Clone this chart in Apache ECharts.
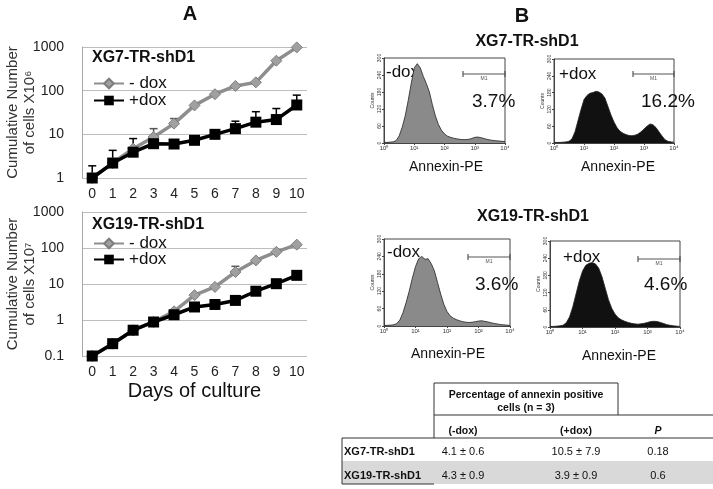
<!DOCTYPE html>
<html><head><meta charset="utf-8">
<script src="https://cdn.jsdelivr.net/npm/echarts@6/dist/echarts.min.js"></script>
<style>html,body{margin:0;padding:0;background:#fff}#c{width:713px;height:489px}</style>
</head><body><div id="c"></div>
<script>
// ---------- Panel A data ----------
const days = ['0','1','2','3','4','5','6','7','8','9','10'];
const xg7Minus = [1,2.2,4.7,8.7,17.6,46,83,128,155,485,980];
const xg7Plus  = [1,2.2,3.9,6.1,6.0,7.3,10,13.5,19,21.8,47];
const xg7MinusErr = [null,null,null,13.5,23,null,null,null,null,null,null];
const xg7PlusErr  = [1.9,4.3,8,null,null,null,null,20,33,39,79];
const xg19Minus = [0.1,0.22,0.52,0.88,1.74,4.9,8.3,21.5,45,78,124];
const xg19Plus  = [0.1,0.22,0.52,0.88,1.4,2.3,2.7,3.5,6.3,10.2,17.4];
const xg19MinusErr = [null,null,null,null,null,null,null,31,null,null,null];
const xg19PlusErr  = [null,null,null,null,null,null,null,null,null,null,null];

// ---------- Panel B data (log10 fluorescence bins, counts) ----------
const histBins = [0,0.1,0.2,0.3,0.4,0.5,0.6,0.7,0.8,0.9,1.0,1.1,1.2,1.3,1.4,1.5,1.6,1.7,1.8,1.9,2.0,2.1,2.2,2.3,2.4,2.5,2.6,2.7,2.8,2.9,3.0,3.1,3.2,3.3,3.4,3.5,3.6,3.7,3.8,3.9,4.0];
const hXg7Minus  = [2,2,3,4,8,25,55,95,150,210,265,280,265,235,210,180,135,95,65,45,32,24,20,17,15,13,12,12,13,16,20,21,19,16,13,11,9,8,7,6,5];
const hXg7Plus   = [2,2,2,3,4,6,15,40,80,120,155,170,178,180,185,182,175,160,130,100,75,55,42,35,30,27,26,28,32,40,50,60,68,65,55,40,25,12,6,4,3];
const hXg19Minus = [2,2,3,4,8,20,45,80,120,165,205,232,240,230,232,215,190,150,110,75,50,35,27,22,18,15,13,12,13,15,17,18,16,14,11,9,7,5,4,3,2];
const hXg19Plus  = [2,2,3,4,6,15,35,70,115,160,195,215,222,225,220,205,175,135,95,65,45,32,25,20,16,13,11,10,11,13,16,19,20,19,16,12,8,6,4,3,2];
const histPct = ['3.7%','16.2%','3.6%','4.6%'];
const histTags = ['-dox','+dox','-dox','+dox'];
const histTicks = ['10\u2070','10\u00b9','10\u00b2','10\u00b3','10\u2074'];

// ---------- Table data ----------
const tableHeader = ['Percentage of annexin positive', 'cells (n = 3)'];
const tableCols = ['(-dox)','(+dox)','P'];
const tableRows = ['XG7-TR-shD1','XG19-TR-shD1'];
const colMinus = ['4.1 \u00b1 0.6','4.3 \u00b1 0.9'];
const colPlus  = ['10.5 \u00b1 7.9','3.9 \u00b1 0.9'];
const colP     = ['0.18','0.6'];

const FF = 'Liberation Sans, Arial, sans-serif';
const GRAY_LINE = '#8e8e8e';

function errData(vals, errs){
  const out = [];
  errs.forEach((e,i)=>{ if(e!=null) out.push([i, vals[i], e]); });
  return out;
}
function errSeries(xi, yi, vals, errs, color){
  return {
    type:'custom', xAxisIndex:xi, yAxisIndex:yi, z:2, silent:true,
    data: errData(vals, errs),
    renderItem:(params, api)=>{
      const p0 = api.coord([api.value(0), api.value(1)]);
      const p1 = api.coord([api.value(0), api.value(2)]);
      return {type:'group', children:[
        {type:'line', shape:{x1:p0[0],y1:p0[1],x2:p1[0],y2:p1[1]}, style:{stroke:color,lineWidth:1.5}},
        {type:'line', shape:{x1:p1[0]-4,y1:p1[1],x2:p1[0]+4,y2:p1[1]}, style:{stroke:color,lineWidth:1.5}}
      ]};
    }
  };
}
function lineYAxis(gi, min, max, nameSup){
  return {
    type:'log', logBase:10, gridIndex:gi, min:min, max:max,
    axisLine:{show:true, lineStyle:{color:'#a8a8a8', width:1}},
    axisTick:{show:false},
    splitLine:{show:true, lineStyle:{color:'#bdbdbd', width:1}},
    axisLabel:{fontSize:14, color:'#222', fontFamily:FF, margin:18, formatter:v=>String(v)},
    name:'Cumulative Number\nof cells X10' + nameSup, nameLocation:'middle', nameRotate:90, nameGap:44,
    nameMoveOverlap:false,
    nameTextStyle:{fontSize:15, lineHeight:17, color:'#333', fontFamily:FF}
  };
}
function lineXAxis(gi, extra){
  return Object.assign({
    type:'category', gridIndex:gi, data:days, boundaryGap:true,
    axisLine:{show:false}, axisTick:{show:false}, splitLine:{show:false},
    axisLabel:{fontSize:14, color:'#222', fontFamily:FF, interval:0, margin:9}
  }, extra||{});
}
function histX(gi){
  return {type:'value', gridIndex:gi, min:0, max:4, interval:1,
    axisLine:{show:true, lineStyle:{color:'#444', width:1}},
    axisTick:{show:true, length:2, lineStyle:{color:'#444'}},
    splitLine:{show:false},
    axisLabel:{fontSize:6, color:'#333', fontFamily:FF, margin:2, formatter:v=>histTicks[v]}};
}
function histY(gi){
  return {type:'value', gridIndex:gi, min:0, max:300, interval:60,
    axisLine:{show:true, lineStyle:{color:'#444', width:1}},
    axisTick:{show:true, length:2, lineStyle:{color:'#444'}},
    splitLine:{show:false},
    axisLabel:{fontSize:5, color:'#333', fontFamily:FF, margin:2, rotate:90},
    name:'Counts', nameLocation:'middle', nameRotate:90, nameGap:9, nameMoveOverlap:false,
    nameTextStyle:{fontSize:5, color:'#333', fontFamily:FF}};
}
function histSeries(gi, counts, fill){
  return {type:'line', xAxisIndex:gi, yAxisIndex:gi, showSymbol:false, silent:true,
    data: histBins.map((b,i)=>[b, counts[i]]),
    lineStyle:{color:'#222', width:0.8}, areaStyle:{color:fill, opacity:1}};
}

const histGrids = [
  {left:384, top:58, width:121, height:85},
  {left:554, top:59, width:120, height:84},
  {left:384, top:239, width:126, height:87},
  {left:550, top:241, width:130, height:86}
];

const option = {
  animation:false,
  textStyle:{fontFamily:FF},
  grid:[
    {left:82, top:47, width:225, height:131, outerBoundsMode:'none', containLabel:false},
    {left:82, top:212, width:225, height:144, outerBoundsMode:'none', containLabel:false}
  ].concat(histGrids.map(g=>Object.assign({show:true, borderColor:'#444', borderWidth:1, outerBoundsMode:'none', containLabel:false}, g))),
  xAxis:[
    lineXAxis(0),
    lineXAxis(1, {name:'Days of culture', nameLocation:'middle', nameGap:25, nameMoveOverlap:false, nameTextStyle:{fontSize:20, color:'#111', fontFamily:FF}}),
    histX(2), histX(3), histX(4), histX(5)
  ],
  yAxis:[
    lineYAxis(0, 1, 1000, '\u2076'),
    lineYAxis(1, 0.1, 1000, '\u2077'),
    histY(2), histY(3), histY(4), histY(5)
  ],
  legend:[
    {data:['- dox','+dox'], orient:'vertical', left:88, top:70, itemWidth:30, itemHeight:12, itemGap:0,
     selectedMode:false, textStyle:{fontSize:17, color:'#111', fontFamily:FF}},
    {data:['- dox','+dox'], orient:'vertical', left:88, top:230, itemWidth:30, itemHeight:12, itemGap:-1,
     selectedMode:false, textStyle:{fontSize:17, color:'#111', fontFamily:FF}}
  ],
  series:[
    errSeries(0,0,xg7Minus,xg7MinusErr,'#555'),
    errSeries(0,0,xg7Plus,xg7PlusErr,'#000'),
    {type:'line', name:'- dox', xAxisIndex:0, yAxisIndex:0, data:xg7Minus, symbol:'diamond', symbolSize:11,
     lineStyle:{color:GRAY_LINE, width:3.5}, itemStyle:{color:'#a0a0a0', borderColor:'#7d7d7d', borderWidth:1}, z:3},
    {type:'line', name:'+dox', xAxisIndex:0, yAxisIndex:0, data:xg7Plus, symbol:'rect', symbolSize:11,
     lineStyle:{color:'#000', width:3.5}, itemStyle:{color:'#000'}, z:4},
    errSeries(1,1,xg19Minus,xg19MinusErr,'#555'),
    errSeries(1,1,xg19Plus,xg19PlusErr,'#000'),
    {type:'line', name:'- dox', xAxisIndex:1, yAxisIndex:1, data:xg19Minus, symbol:'diamond', symbolSize:11,
     lineStyle:{color:GRAY_LINE, width:3.5}, itemStyle:{color:'#a0a0a0', borderColor:'#7d7d7d', borderWidth:1}, z:3},
    {type:'line', name:'+dox', xAxisIndex:1, yAxisIndex:1, data:xg19Plus, symbol:'rect', symbolSize:11,
     lineStyle:{color:'#000', width:3.5}, itemStyle:{color:'#000'}, z:4},
    histSeries(2, hXg7Minus, '#8a8a8a'),
    histSeries(3, hXg7Plus, '#111'),
    histSeries(4, hXg19Minus, '#8a8a8a'),
    histSeries(5, hXg19Plus, '#111')
  ],
  graphic: []
};

const G = option.graphic;
function txt(x,y,text,font,align,fill,va){
  G.push({type:'text', x:x, y:y, silent:true, style:{text:text, font:font, fill:fill||'#111', align:align||'left', verticalAlign:va||'middle'}});
}
function ln(x1,y1,x2,y2,color,w){
  G.push({type:'line', silent:true, shape:{x1:x1,y1:y1,x2:x2,y2:y2}, style:{stroke:color||'#222', lineWidth:w||1}});
}
// panel letters & titles
txt(190,14,'A','bold 20px '+FF,'center','#111');
txt(522,16,'B','bold 20px '+FF,'center','#111');
txt(92,58,'XG7-TR-shD1','bold 16px '+FF,'left','#111');
txt(92,225,'XG19-TR-shD1','bold 16px '+FF,'left','#111');
txt(527,42,'XG7-TR-shD1','bold 16px '+FF,'center','#111');
txt(533,217,'XG19-TR-shD1','bold 16px '+FF,'center','#111');

// histogram annotations
const tagPos = [[386,72],[559,74],[387,252],[563,257]];
const pctPos = [[472,102],[641,102],[475,285],[644,285]];
const m1Pos  = [[463,505,74],[633,674,74],[468,510,257],[638,680,259]];
const annPos = [[446,167],[618,167],[448,354],[619,356]];
for(let i=0;i<4;i++){
  txt(tagPos[i][0],tagPos[i][1],histTags[i],'17px '+FF,'left','#111');
  txt(pctPos[i][0],pctPos[i][1],histPct[i],'19px '+FF,'left','#111');
  const m = m1Pos[i];
  ln(m[0],m[2],m[1],m[2],'#555',1.2);
  ln(m[0],m[2]-3,m[0],m[2]+3,'#555',1.2);
  ln(m[1],m[2]-3,m[1],m[2]+3,'#555',1.2);
  txt((m[0]+m[1])/2,m[2]+5,'M1','5px '+FF,'center','#555');
  txt(annPos[i][0],annPos[i][1],'Annexin-PE','14px '+FF,'center','#111');
}

// table
G.push({type:'rect', silent:true, shape:{x:342,y:461,width:371,height:23}, style:{fill:'#d9d9d9'}});
ln(434,383,618,383,'#333',1);
ln(434,383,434,438,'#333',1);
ln(618,383,618,415,'#333',1);
ln(434,415,713,415,'#333',1);
ln(342,438,713,438,'#333',1);
ln(342,438,342,484,'#333',1);
ln(342,484,434,484,'#333',1);
txt(526,395,tableHeader[0],'bold 10.5px '+FF,'center','#111');
txt(526,408,tableHeader[1],'bold 10.5px '+FF,'center','#111');
const colX = [463,576,658];
txt(colX[0],431,tableCols[0],'bold 10.5px '+FF,'center','#111');
txt(colX[1],431,tableCols[1],'bold 10.5px '+FF,'center','#111');
txt(colX[2],431,tableCols[2],'italic bold 10.5px '+FF,'center','#111');
const rowY = [452,476];
for(let r=0;r<2;r++){
  txt(344,rowY[r],tableRows[r],'bold 11px '+FF,'left','#111');
  txt(colX[0],rowY[r],colMinus[r],'11px '+FF,'center','#111');
  txt(colX[1],rowY[r],colPlus[r],'11px '+FF,'center','#111');
  txt(colX[2],rowY[r],colP[r],'11px '+FF,'center','#111');
}

const chart = echarts.init(document.getElementById('c'), null, {renderer:'canvas'});
chart.setOption(option);
</script>
</body></html>
